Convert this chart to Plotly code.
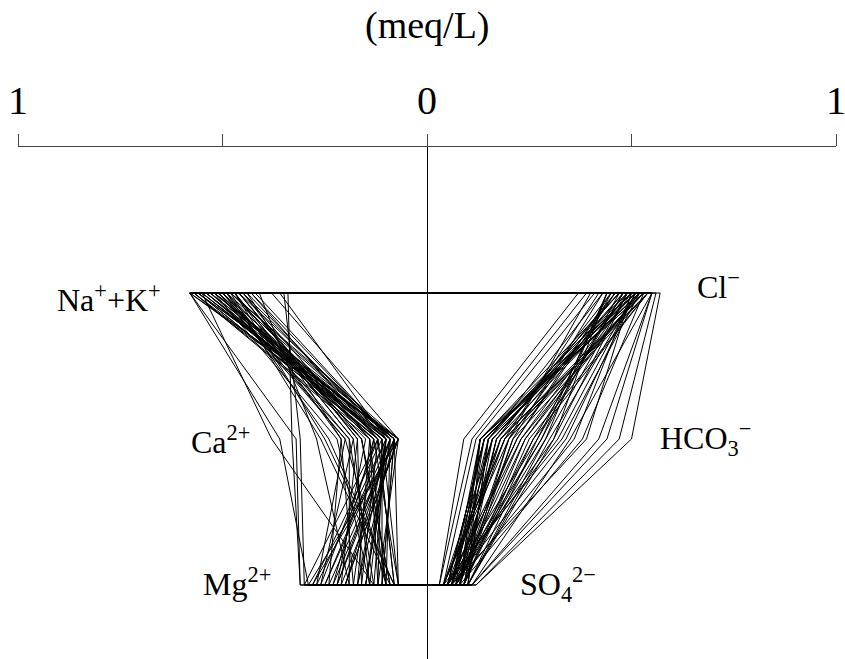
import plotly.graph_objects as go

# Stiff diagram, concentrations in meq/L (cations plotted to the left, anions to the right)
na_k = [0.58, 0.52, 0.56, 0.58, 0.49, 0.54, 0.57, 0.47, 0.52, 0.55,
        0.51, 0.45, 0.50, 0.53, 0.58, 0.48, 0.44, 0.54, 0.50, 0.47,
        0.56, 0.46, 0.51, 0.55, 0.49, 0.45, 0.53, 0.48, 0.57, 0.43,
        0.52, 0.46, 0.50, 0.54, 0.47, 0.42, 0.56, 0.49, 0.51, 0.44,
        0.55, 0.46, 0.53, 0.48, 0.50, 0.58, 0.41, 0.52, 0.38, 0.57,
        0.45, 0.36, 0.54, 0.47, 0.49, 0.34, 0.56, 0.43, 0.51, 0.48,
        0.35, 0.55, 0.46, 0.52]
ca = [0.07, 0.09, 0.12, 0.36, 0.08, 0.10, 0.14, 0.18, 0.07, 0.11,
      0.20, 0.09, 0.16, 0.13, 0.32, 0.08, 0.21, 0.12, 0.10, 0.25,
      0.07, 0.17, 0.11, 0.09, 0.19, 0.14, 0.08, 0.26, 0.10, 0.12,
      0.22, 0.08, 0.15, 0.11, 0.18, 0.09, 0.07, 0.24, 0.13, 0.10,
      0.38, 0.16, 0.08, 0.12, 0.20, 0.09, 0.27, 0.11, 0.07, 0.13,
      0.17, 0.10, 0.08, 0.21, 0.14, 0.33, 0.12, 0.09, 0.19, 0.07,
      0.31, 0.10, 0.16, 0.08]
mg = [0.12, 0.22, 0.08, 0.29, 0.17, 0.25, 0.10, 0.14, 0.20, 0.07,
      0.27, 0.15, 0.09, 0.23, 0.31, 0.11, 0.18, 0.26, 0.13, 0.08,
      0.21, 0.16, 0.28, 0.10, 0.19, 0.12, 0.24, 0.09, 0.17, 0.30,
      0.14, 0.07, 0.22, 0.11, 0.26, 0.15, 0.20, 0.08, 0.18, 0.27,
      0.13, 0.09, 0.23, 0.16, 0.10, 0.25, 0.19, 0.12, 0.29, 0.07,
      0.21, 0.14, 0.11, 0.24, 0.17, 0.31, 0.08, 0.20, 0.13, 0.28,
      0.30, 0.15, 0.10, 0.22]
cl = [0.52, 0.50, 0.54, 0.47, 0.53, 0.49, 0.51, 0.45, 0.55, 0.52,
      0.48, 0.50, 0.46, 0.53, 0.57, 0.51, 0.44, 0.54, 0.49, 0.47,
      0.52, 0.43, 0.50, 0.55, 0.48, 0.45, 0.53, 0.51, 0.49, 0.42,
      0.54, 0.46, 0.52, 0.50, 0.47, 0.44, 0.53, 0.49, 0.51, 0.40,
      0.55, 0.48, 0.52, 0.45, 0.50, 0.54, 0.37, 0.51, 0.46, 0.53,
      0.49, 0.43, 0.52, 0.47, 0.50, 0.41, 0.54, 0.48, 0.51, 0.44,
      0.39, 0.53, 0.50, 0.56]
hco3 = [0.15, 0.24, 0.19, 0.28, 0.13, 0.31, 0.17, 0.22, 0.35, 0.14,
        0.26, 0.16, 0.20, 0.38, 0.50, 0.13, 0.29, 0.18, 0.23, 0.15,
        0.33, 0.21, 0.14, 0.42, 0.27, 0.17, 0.13, 0.30, 0.16, 0.19,
        0.25, 0.22, 0.14, 0.36, 0.15, 0.28, 0.18, 0.13, 0.32, 0.20,
        0.44, 0.16, 0.24, 0.27, 0.14, 0.21, 0.09, 0.34, 0.17, 0.19,
        0.29, 0.15, 0.23, 0.13, 0.39, 0.12, 0.26, 0.18, 0.14, 0.31,
        0.11, 0.20, 0.16, 0.47]
so4 = [0.06, 0.09, 0.04, 0.07, 0.10, 0.05, 0.08, 0.06, 0.11, 0.05,
       0.07, 0.09, 0.04, 0.08, 0.12, 0.06, 0.10, 0.05, 0.07, 0.08,
       0.04, 0.09, 0.06, 0.11, 0.05, 0.08, 0.07, 0.10, 0.04, 0.06,
       0.09, 0.05, 0.08, 0.07, 0.10, 0.06, 0.04, 0.08, 0.05, 0.09,
       0.11, 0.06, 0.07, 0.10, 0.05, 0.08, 0.03, 0.06, 0.09, 0.04,
       0.07, 0.10, 0.05, 0.08, 0.06, 0.04, 0.09, 0.07, 0.05, 0.10,
       0.03, 0.08, 0.06, 0.12]

tick_vals = [-1, 0, 1]
tick_text = ["1", "0", "1"]
minor_tick_vals = [-0.5, 0.5]

# rows: Na+K / Cl on top, Ca / HCO3 in the middle, Mg / SO4 at the bottom
ROW_TOP, ROW_MID, ROW_BOT = 2, 1, 0

FONT = "Liberation Serif"

fig = go.Figure()
for i in range(len(na_k)):
    fig.add_trace(go.Scatter(
        x=[-na_k[i], -ca[i], -mg[i], so4[i], hco3[i], cl[i], -na_k[i]],
        y=[ROW_TOP, ROW_MID, ROW_BOT, ROW_BOT, ROW_MID, ROW_TOP, ROW_TOP],
        mode="lines",
        line=dict(color="black", width=1),
        hoverinfo="skip",
        showlegend=False,
    ))

ion_labels = [
    ("Na<sup>+</sup>+K<sup>+</sup>", -0.645, 1.965, "right"),
    ("Ca<sup>2+</sup>", -0.428, 0.99, "right"),
    ("Mg<sup>2+</sup>", -0.377, 0.02, "right"),
    ("Cl<sup>−</sup>", 0.655, 2.055, "left"),
    ("HCO<sub>3</sub><sup>−</sup>", 0.565, 1.0, "left"),
    ("SO<sub>4</sub><sup>2−</sup>", 0.222, 0.0, "left"),
]
annotations = [
    dict(text=t, x=x, y=y, xref="x", yref="y", xanchor=xa, yanchor="middle",
         showarrow=False, font=dict(family=FONT, size=32, color="black"))
    for t, x, y, xa in ion_labels
]
annotations.append(dict(
    text="(meq/L)", x=0.5, y=1.238, xref="paper", yref="paper",
    xanchor="center", yanchor="middle", showarrow=False,
    font=dict(family=FONT, size=38, color="black"),
))

fig.update_layout(
    width=845, height=659,
    margin=dict(l=18, r=9, t=147, b=0),
    paper_bgcolor="white", plot_bgcolor="white",
    annotations=annotations,
    xaxis=dict(
        range=[-1, 1], side="top", showgrid=False,
        showline=True, linecolor="#444", linewidth=1.3,
        ticks="outside", ticklen=12, tickwidth=1.3, tickcolor="#444",
        tickvals=tick_vals, ticktext=tick_text,
        tickfont=dict(family=FONT, size=40, color="black"),
        ticklabelstandoff=4, ticklabeloverflow="allow",
        minor=dict(tickvals=minor_tick_vals, ticks="outside", ticklen=12,
                   tickwidth=1.3, tickcolor="#444", showgrid=False),
        zeroline=True, zerolinecolor="black", zerolinewidth=1.3,
    ),
    yaxis=dict(
        range=[-0.507, 3], visible=False, showgrid=False, zeroline=False,
    ),
)

fig.write_html("out.html")
